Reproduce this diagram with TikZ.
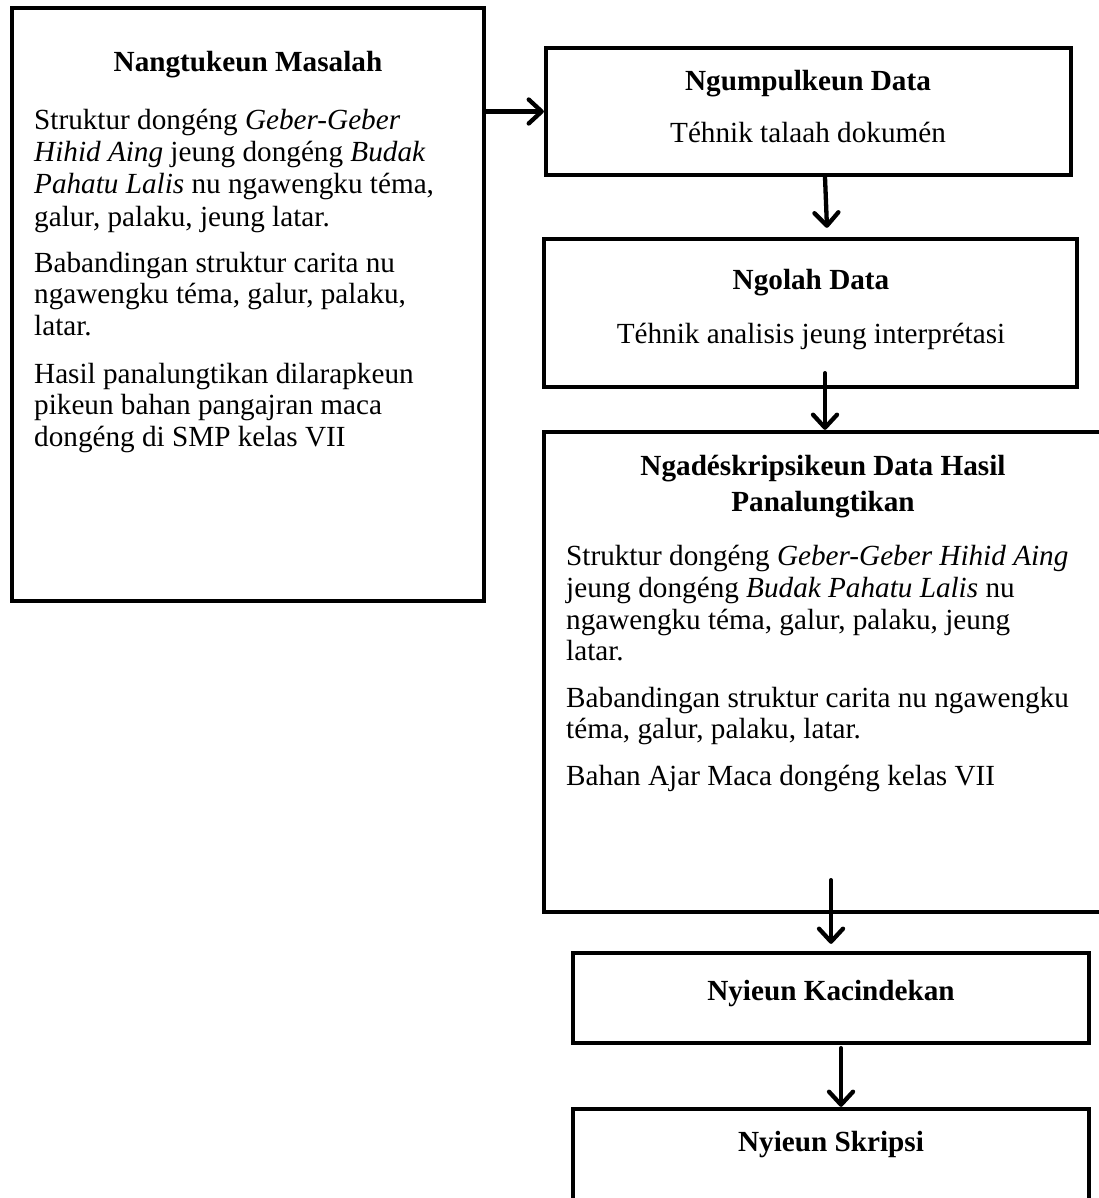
\documentclass[tikz,border=0pt]{standalone}
\usepackage{fontspec}
\setmainfont{Liberation Serif}
\usetikzlibrary{arrows.meta}
\newcommand\bodyfs{\fontsize{29.2}{31.7}\selectfont}
\begin{document}
\begin{tikzpicture}[x=1pt,y=-1pt,
  box/.style={draw, line width=4.3pt, inner sep=0pt, outer sep=2.15pt},
  txt/.style={inner sep=0pt, font=\bodyfs},
  ttl/.style={inner sep=0pt, font=\bodyfs\bfseries},
  arr/.style={line width=4.3pt, line cap=round, -{Straight Barb[length=13pt,width=24pt,round]}}]
\useasboundingbox (0,0) rectangle (1099,1198);
\clip (0,0) rectangle (1099,1198);
% boxes
\node[box, minimum width=472pt, minimum height=593pt] (L) at (248,304.5) {};
\node[box, minimum width=525pt, minimum height=127pt] (B2) at (808.5,111.5) {};
\node[box, minimum width=533pt, minimum height=148pt] (B3) at (810.5,313) {};
\node[box, minimum width=562pt, minimum height=480pt] (B4) at (825,672) {};
\node[box, minimum width=516pt, minimum height=90pt] (B5) at (831,998) {};
\node[box, minimum width=516pt, minimum height=106pt] (B6) at (831,1162) {};
% left box text
\node[ttl, anchor=base] (Lt) at (248,72) {Nangtukeun Masalah};
\node[txt, anchor=base west] (la1) at (34,130) {Struktur dongéng \textit{Geber-Geber}};
\node[txt, anchor=base west] (la2) at (34,162) {\textit{Hihid Aing} jeung dongéng \textit{Budak}};
\node[txt, anchor=base west] (la3) at (34,194) {\textit{Pahatu Lalis} nu ngawengku téma,};
\node[txt, anchor=base west] (la4) at (34,226) {galur, palaku, jeung latar.};
\node[txt, anchor=base west] (lb1) at (34,272) {Babandingan struktur carita nu};
\node[txt, anchor=base west] (lb2) at (34,303) {ngawengku téma, galur, palaku,};
\node[txt, anchor=base west] (lb3) at (34,335) {latar.};
\node[txt, anchor=base west] (lc1) at (34,383) {Hasil panalungtikan dilarapkeun};
\node[txt, anchor=base west] (lc2) at (34,414) {pikeun bahan pangajran maca};
\node[txt, anchor=base west] (lc3) at (34,446) {dongéng di SMP kelas VII};
% box 2
\node[ttl, anchor=base] (B2t) at (808,91) {Ngumpulkeun Data};
\node[txt, anchor=base] (B2b) at (808,143) {Téhnik talaah dokumén};
% box 3
\node[ttl, anchor=base] (B3t) at (811,289) {Ngolah Data};
\node[txt, anchor=base] (B3b) at (811,343) {Téhnik analisis jeung interprétasi};
% box 4
\node[ttl, anchor=base] (B4t1) at (823,475) {Ngadéskripsikeun Data Hasil};
\node[ttl, anchor=base] (B4t2) at (823,511) {Panalungtikan};
\node[txt, anchor=base west] (da1) at (566,565) {Struktur dongéng \textit{Geber-Geber Hihid Aing}};
\node[txt, anchor=base west] (da2) at (566,597) {jeung dongéng \textit{Budak Pahatu Lalis} nu};
\node[txt, anchor=base west] (da3) at (566,629) {ngawengku téma, galur, palaku, jeung};
\node[txt, anchor=base west] (da4) at (566,660) {latar.};
\node[txt, anchor=base west] (db1) at (566,707) {Babandingan struktur carita nu ngawengku};
\node[txt, anchor=base west] (db2) at (566,738) {téma, galur, palaku, latar.};
\node[txt, anchor=base west] (dc1) at (566,785) {Bahan Ajar Maca dongéng kelas VII};
% box 5, 6
\node[ttl, anchor=base] (B5t) at (831,1000) {Nyieun Kacindekan};
\node[ttl, anchor=base] (B6t) at (831,1151) {Nyieun Skripsi};
% arrows
\draw[arr] (L.east |- B2.west) -- (B2.west);
\draw[arr] ([xshift=16.5pt]B2.south) -- ([xshift=16.5pt,yshift=9pt]B3.north);
\draw[arr] ([yshift=16pt]B3.south -| B4.north) -- (B4.north);
\draw[arr] ([yshift=34pt]B4.south -| B5.north) -- ([yshift=7pt]B5.north);
\draw[arr] ([xshift=10pt,yshift=-3pt]B5.south) -- ([xshift=10pt]B6.north);
\end{tikzpicture}
\end{document}
